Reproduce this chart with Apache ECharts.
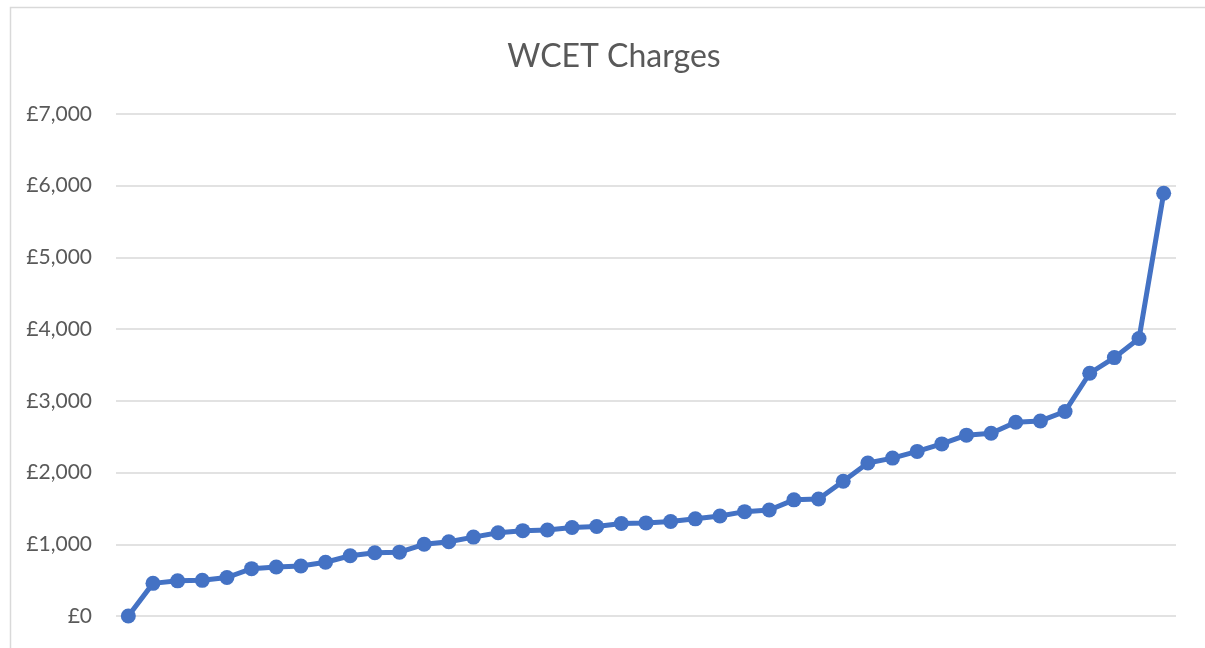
<!DOCTYPE html>
<html>
<head>
<meta charset="utf-8">
<script src="https://cdn.jsdelivr.net/npm/echarts@6/dist/echarts.min.js"></script>
<style>
  html, body { margin: 0; padding: 0; background: #fff; }
  #chart { width: 1205px; height: 648px; }
</style>
</head>
<body>
<div id="chart"></div>
<script>
// charges sorted ascending, one per institution
const charges = [
  0, 455, 490, 497, 537, 660, 684, 698, 750, 840,
  882, 890, 1000, 1035, 1100, 1160, 1190, 1200, 1235, 1248,
  1290, 1298, 1318, 1355, 1395, 1455, 1478, 1620, 1632, 1878,
  2133, 2202, 2295, 2400, 2522, 2549, 2702, 2720, 2852, 3385,
  3603, 3870, 5895
];
const categories = charges.map((_, i) => String(i + 1));
const yTicks = { min: 0, max: 7000, step: 1000 };

const chart = echarts.init(document.getElementById('chart'), null, { renderer: 'canvas' });

chart.setOption({
  animation: false,
  backgroundColor: '#ffffff',
  textStyle: { fontFamily: 'Lato, "Open Sans", sans-serif' },
  graphic: [
    {
      type: 'rect',
      left: 8,
      top: 5,
      shape: { width: 1210, height: 660 },
      style: { fill: 'none', stroke: '#d9d9d9', lineWidth: 1.5 },
      silent: true
    }
  ],
  title: {
    text: 'WCET Charges',
    left: 609,
    textAlign: 'center',
    top: 36,
    textStyle: {
      color: '#595959',
      fontSize: 32,
      fontWeight: 'normal',
      fontFamily: 'Lato, "Open Sans", sans-serif'
    }
  },
  grid: {
    left: 116,
    right: 29,
    top: 114,
    bottom: 32,
    containLabel: false
  },
  xAxis: {
    type: 'category',
    data: categories,
    boundaryGap: true,
    axisLine: { show: false },
    axisTick: { show: false },
    axisLabel: { show: false }
  },
  yAxis: {
    type: 'value',
    min: yTicks.min,
    max: yTicks.max,
    interval: yTicks.step,
    axisLine: { show: false },
    axisTick: { show: false },
    axisLabel: {
      margin: 24,
      color: '#595959',
      fontSize: 21,
      fontFamily: 'Lato, "Open Sans", sans-serif',
      formatter: (v) => '£' + v.toLocaleString('en-GB')
    },
    splitLine: { lineStyle: { color: '#d9d9d9', width: 1.5 } }
  },
  series: [
    {
      name: 'WCET Charges',
      type: 'line',
      data: charges,
      symbol: 'circle',
      symbolSize: 15,
      lineStyle: { color: '#4472C4', width: 5 },
      itemStyle: { color: '#4472C4' }
    }
  ]
});
</script>
</body>
</html>
